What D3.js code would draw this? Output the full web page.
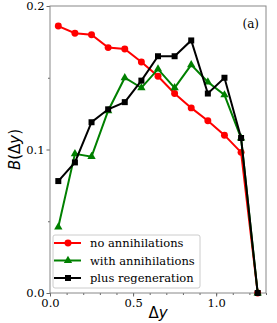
<!DOCTYPE html>
<html>
<head>
<meta charset="utf-8">
<script src="https://cdn.jsdelivr.net/npm/d3@7"></script>
<style>
  body { margin: 0; background: #fff; }
  svg { display: block; }
</style>
</head>
<body>
<svg id="chart" width="277" height="323"></svg>
<script>
const dy = [0.05, 0.15, 0.25, 0.35, 0.45, 0.55, 0.65, 0.75, 0.85, 0.95, 1.05, 1.15, 1.25];
const noAnnihilations = [0.186, 0.181, 0.180, 0.171, 0.170, 0.161, 0.151, 0.139, 0.129, 0.120, 0.110, 0.098, 0.0];
const withAnnihilations = [0.046, 0.097, 0.095, 0.127, 0.150, 0.143, 0.156, 0.143, 0.159, 0.147, 0.138, 0.108, 0.0];
const plusRegeneration = [0.078, 0.091, 0.119, 0.128, 0.133, 0.148, 0.165, 0.165, 0.176, 0.139, 0.150, 0.108, 0.0];
const seriesNames = ['no annihilations', 'with annihilations', 'plus regeneration'];
const xTicks = [0.0, 0.5, 1.0];
const yTicks = [0.0, 0.1, 0.2];

const margin = { top: 6, right: 11, bottom: 30, left: 50 };
const width = 277 - margin.left - margin.right;
const height = 323 - margin.top - margin.bottom;

const svg = d3.select('#chart');
const g = svg.append('g').attr('transform', `translate(${margin.left},${margin.top})`);

const x = d3.scaleLinear().domain([0, 1.3]).range([0, width]);
const y = d3.scaleLinear().domain([0, 0.2]).range([height, 0]);

const serif = '"DejaVu Serif", serif';

// minor ticks
g.append('g')
  .attr('transform', `translate(0,${height})`)
  .call(d3.axisBottom(x).tickValues(d3.range(0, 1.31, 0.1)).tickSize(2).tickFormat(''))
  .call(a => a.select('.domain').remove())
  .call(a => a.selectAll('line').attr('stroke', '#666'));
g.append('g')
  .call(d3.axisLeft(y).tickValues([0.05, 0.15]).tickSize(2).tickFormat(''))
  .call(a => a.select('.domain').remove())
  .call(a => a.selectAll('line').attr('stroke', '#666'));

const xAxis = g.append('g')
  .attr('transform', `translate(0,${height})`)
  .call(d3.axisBottom(x).tickValues(xTicks).tickSize(3.5).tickPadding(2).tickFormat(d3.format('.1f')));
const yAxis = g.append('g')
  .call(d3.axisLeft(y).tickValues(yTicks).tickSize(3.5).tickPadding(2).tickFormat(d3.format('.1f')));
[xAxis, yAxis].forEach(a => {
  a.select('.domain').remove();
  a.selectAll('line').attr('stroke', '#666');
  a.selectAll('text').attr('fill', '#000').style('font-family', serif).style('font-size', '11.5px');
});

g.append('rect')
  .attr('width', width).attr('height', height)
  .attr('fill', 'none').attr('stroke', '#888').attr('stroke-width', 1);

const series = [
  { name: seriesNames[0], values: noAnnihilations, color: '#ff0000', marker: 'circle' },
  { name: seriesNames[1], values: withAnnihilations, color: '#008000', marker: 'triangle' },
  { name: seriesNames[2], values: plusRegeneration, color: '#000000', marker: 'square' }
];

const symbolFor = m => m === 'circle' ? d3.symbol(d3.symbolCircle, 38)
  : m === 'triangle' ? d3.symbol(d3.symbolTriangle, 30)
  : d3.symbol(d3.symbolSquare, 36);

const line = d3.line().x((d, i) => x(dy[i])).y(d => y(d));

series.forEach(s => {
  g.append('path')
    .datum(s.values)
    .attr('d', line)
    .attr('fill', 'none')
    .attr('stroke', s.color)
    .attr('stroke-width', 2);
  g.selectAll(null)
    .data(s.values)
    .enter()
    .append('path')
    .attr('d', symbolFor(s.marker))
    .attr('transform', (d, i) => `translate(${x(dy[i])},${y(d)})`)
    .attr('fill', s.color);
});

// legend
const legend = g.append('g').attr('transform', 'translate(3,229)');
legend.append('rect')
  .attr('width', 147).attr('height', 53).attr('rx', 2)
  .attr('fill', '#fff').attr('fill-opacity', 0.85)
  .attr('stroke', '#ccc');
series.forEach((s, i) => {
  const ly = 8 + i * 17.5;
  legend.append('line')
    .attr('x1', 1).attr('x2', 28).attr('y1', ly).attr('y2', ly)
    .attr('stroke', s.color).attr('stroke-width', 2);
  legend.append('path')
    .attr('d', symbolFor(s.marker))
    .attr('transform', `translate(15,${ly})`)
    .attr('fill', s.color);
  legend.append('text')
    .attr('x', 37).attr('y', ly).attr('dy', '0.35em')
    .style('font-family', serif).style('font-size', '11.5px')
    .text(s.name);
});

g.append('text')
  .attr('x', width - 7).attr('y', 22)
  .attr('text-anchor', 'end')
  .style('font-family', serif).style('font-size', '12px')
  .text('(a)');

svg.append('text')
  .attr('x', margin.left + x(0.65)).attr('y', 318)
  .attr('text-anchor', 'middle')
  .style('font-family', '"DejaVu Sans", sans-serif').style('font-size', '15px')
  .html('Δ<tspan font-style="italic">y</tspan>');

svg.append('text')
  .attr('transform', `translate(20,${margin.top + y(0.1)}) rotate(-90)`)
  .attr('text-anchor', 'middle')
  .style('font-family', '"DejaVu Sans", sans-serif').style('font-size', '15px')
  .html('<tspan font-style="italic">B</tspan>(Δ<tspan font-style="italic">y</tspan>)');
</script>
</body>
</html>
